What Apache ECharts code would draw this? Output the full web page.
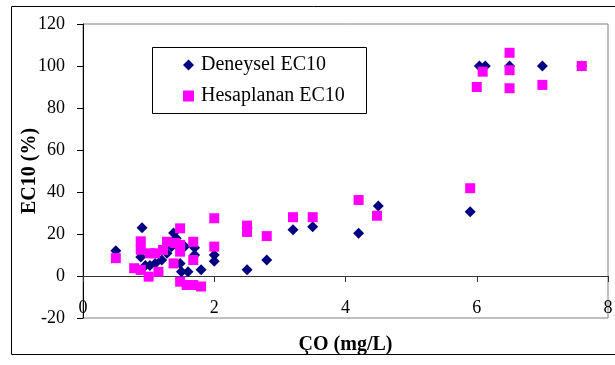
<!DOCTYPE html>
<html>
<head>
<meta charset="utf-8">
<script src="https://cdn.jsdelivr.net/npm/echarts@6/dist/echarts.min.js"></script>
<style>
html,body{margin:0;padding:0;background:#fff;}
#c{width:615px;height:365px;}
</style>
</head>
<body>
<div id="c"></div>
<script>
// Data
const seriesNames = ['Deneysel EC10', 'Hesaplanan EC10'];
const xTicks = [0, 2, 4, 6, 8];
const yTicks = [-20, 0, 20, 40, 60, 80, 100, 120];

const deneysel = [
  [0.5, 12], [0.9, 23], [0.88, 9], [0.95, 5], [1.02, 5], [1.1, 6], [1.2, 7.6],
  [1.28, 10.8], [1.35, 14], [1.38, 20.5], [1.42, 18], [1.48, 6], [1.5, 2],
  [1.6, 2], [1.55, 14], [1.7, 13.5], [1.7, 10], [1.8, 3], [2.0, 10], [2.0, 7],
  [2.5, 3], [2.5, 23], [2.8, 7.6], [3.2, 22], [3.5, 23.5], [4.2, 20.3],
  [4.5, 33.3], [5.9, 30.6], [6.04, 100], [6.13, 100], [6.5, 100], [7.0, 100],
  [7.6, 100]
];

const hesaplanan = [
  [0.5, 8.5], [0.88, 16.5], [0.88, 12.5], [0.78, 3.7], [0.88, 2.9], [1.0, -0.3],
  [1.02, 10.8], [1.15, 2], [1.1, 10.8], [1.22, 12.4], [1.28, 16.3], [1.4, 15.7],
  [1.38, 6], [1.48, 22.7], [1.48, 14.8], [1.48, 11.6], [1.48, -2.7], [1.58, -4.3],
  [1.68, -4.3], [1.8, -5], [1.68, 16.3], [1.68, 7.6], [2.0, 27.5], [2.0, 14],
  [2.5, 24], [2.5, 21], [2.8, 19], [3.2, 28], [3.5, 28], [4.2, 36.2],
  [4.48, 28.7], [5.9, 41.8], [6.0, 90], [6.09, 97.3], [6.5, 106.3], [6.5, 98],
  [6.5, 89.4], [7.0, 91], [7.6, 100]
];

const font = '"Liberation Serif", "Times New Roman", serif';
const chart = echarts.init(document.getElementById('c'));
chart.setOption({
  animation: false,
  backgroundColor: '#fff',
  graphic: [
    { type: 'rect', shape: { x: 11.5, y: 6.5, width: 620, height: 348 },
      style: { fill: 'none', stroke: '#000', lineWidth: 1 }, z: -10 },
    { type: 'rect', shape: { x: 152.5, y: 47.5, width: 214, height: 66 },
      style: { fill: '#fff', stroke: '#000', lineWidth: 1 }, z: 50 }
  ],
  grid: { left: 83, top: 24, right: 7, bottom: 47, show: true,
          containLabel: false, outerBoundsMode: 'none',
          borderColor: '#808080', borderWidth: 1, backgroundColor: 'transparent' },
  legend: {
    orient: 'vertical', left: 178, top: 50, z: 60,
    itemWidth: 11, itemHeight: 11, itemGap: 11,
    textStyle: { fontFamily: font, fontSize: 20, color: '#000', padding: [0, 0, 0, 2] },
    data: [
      { name: seriesNames[0], icon: 'diamond' },
      { name: seriesNames[1], icon: 'rect' }
    ]
  },
  xAxis: {
    type: 'value', min: xTicks[0], max: xTicks[xTicks.length - 1], interval: 2,
    position: 'bottom', offset: -42,
    name: 'ÇO (mg/L)', nameLocation: 'middle', nameGap: 59, nameMoveOverlap: false,
    nameTextStyle: { fontFamily: font, fontSize: 20, fontWeight: 'bold', color: '#000' },
    axisLine: { show: true, onZero: false, lineStyle: { color: '#333', width: 1 } },
    axisTick: { show: true, length: 6, lineStyle: { color: '#333' } },
    axisLabel: { margin: 23, fontFamily: font, fontSize: 18, color: '#000' },
    splitLine: { show: false }
  },
  yAxis: {
    type: 'value', min: yTicks[0], max: yTicks[yTicks.length - 1], interval: 20,
    name: 'EC10 (%)', nameLocation: 'middle', nameGap: 43, nameMoveOverlap: false,
    nameTextStyle: { fontFamily: font, fontSize: 20, fontWeight: 'bold', color: '#000' },
    axisLine: { show: true, onZero: false, lineStyle: { color: '#000', width: 1 } },
    axisTick: { show: true, length: 6, lineStyle: { color: '#000' } },
    axisLabel: { margin: 18, fontFamily: font, fontSize: 18, color: '#000' },
    splitLine: { show: false }
  },
  series: [
    { name: seriesNames[0], type: 'scatter', symbol: 'diamond', symbolSize: 11,
      itemStyle: { color: '#000080', opacity: 1 }, data: deneysel, z: 2 },
    { name: seriesNames[1], type: 'scatter', symbol: 'rect', symbolSize: 10,
      itemStyle: { color: '#FF00FF', opacity: 1 }, data: hesaplanan, z: 3 }
  ]
});
</script>
</body>
</html>
